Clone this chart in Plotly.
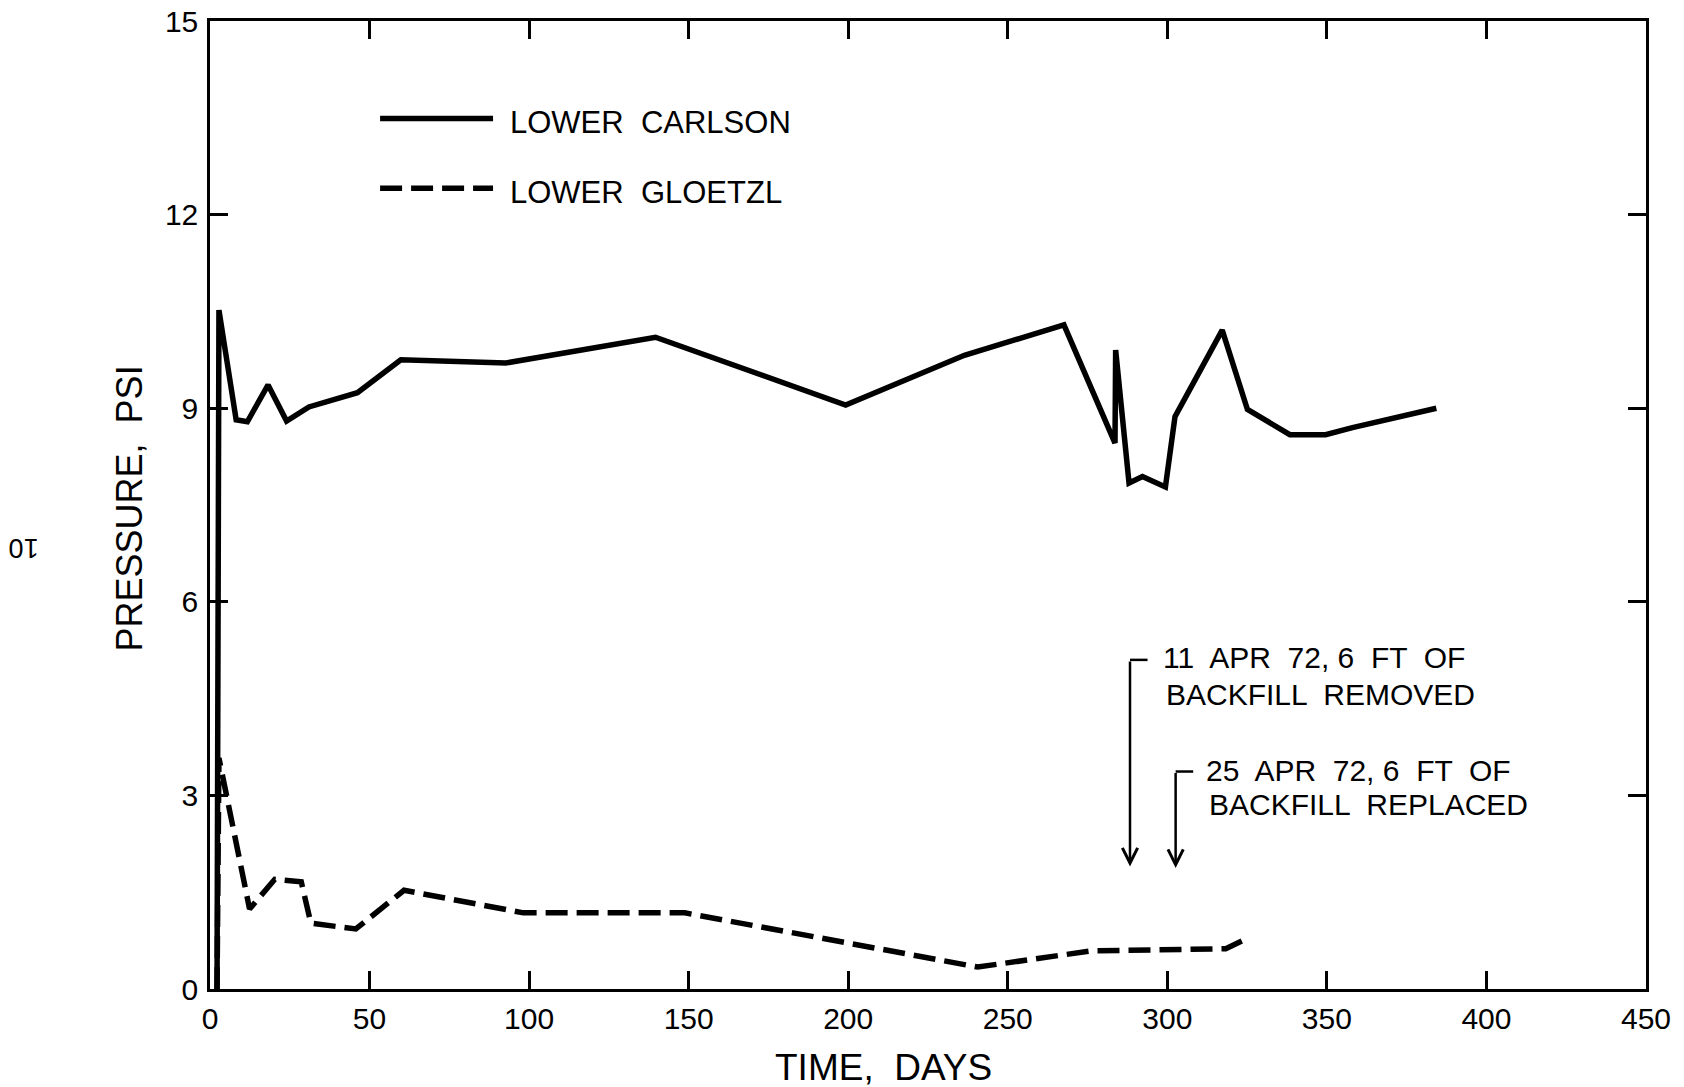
import plotly.graph_objects as go

# ---------------- data ----------------
carlson_days = [2.2, 2.8, 8.2, 11.7, 18.2, 24.0, 31.0, 46.2, 59.8, 92.7, 139.6, 199.2,
                236.4, 267.6, 283.6, 283.8, 288.0, 292.2, 299.4, 302.4, 317.2, 325.1,
                338.4, 349.6, 358.0, 384.3]
carlson_psi = [0.0, 10.52, 8.82, 8.79, 9.36, 8.80, 9.02, 9.24, 9.75, 9.70, 10.10, 9.05,
               9.82, 10.29, 8.46, 9.90, 7.84, 7.94, 7.78, 8.87, 10.21, 8.98,
               8.59, 8.59, 8.70, 9.00]

gloetzl_days = [2.2, 2.8, 12.4, 20.3, 28.6, 31.6, 45.7, 60.8, 98.2, 148.8, 240.6,
                276.0, 318.3, 325.6]
gloetzl_psi = [0.0, 3.58, 1.24, 1.70, 1.66, 1.02, 0.93, 1.53, 1.18, 1.18, 0.34,
               0.59, 0.625, 0.795]

x_ticks = [0, 50, 100, 150, 200, 250, 300, 350, 400, 450]
y_ticks = [0, 3, 6, 9, 12, 15]

series_names = ["LOWER  CARLSON", "LOWER  GLOETZL"]

event_days = [288.3, 302.6]
event_lines = [["11  APR  72, 6  FT  OF", "BACKFILL  REMOVED"],
               ["25  APR  72, 6  FT  OF", "BACKFILL  REPLACED"]]

FONT = "Liberation Sans, Arial, sans-serif"
DASH = "22px,9px"
LW = 5.5

fig = go.Figure()
fig.add_trace(go.Scatter(x=carlson_days, y=carlson_psi, mode="lines",
                         line=dict(color="black", width=LW), name=series_names[0],
                         showlegend=False))
fig.add_trace(go.Scatter(x=gloetzl_days, y=gloetzl_psi, mode="lines",
                         line=dict(color="black", width=LW, dash=DASH), name=series_names[1],
                         showlegend=False))

# manual legend
legend_y = [13.49, 12.41]
legend_dash = ["solid", DASH]
for yv, d, nm in zip(legend_y, legend_dash, series_names):
    fig.add_shape(type="line", x0=53.3, x1=88.7, y0=yv, y1=yv, xref="x", yref="y",
                  line=dict(color="black", width=LW, dash=d))
    fig.add_annotation(x=93.5, y=yv - 0.07, xref="x", yref="y", text=nm, showarrow=False,
                       xanchor="left", yanchor="middle",
                       font=dict(family=FONT, size=31, color="black"))

# event arrows and notes
arrow_top = [5.10, 3.37]
arrow_tip = [1.90, 1.875]
text_x = [298.0, 311.5]
text_y = [[5.14, 4.56], [3.38, 2.86]]
for d, top, tip, tx, ty, lines in zip(event_days, arrow_top, arrow_tip, text_x, text_y, event_lines):
    fig.add_annotation(x=d, y=tip, ax=d, ay=top, xref="x", yref="y", axref="x", ayref="y",
                       text="", showarrow=True, arrowhead=5, arrowsize=1.2, arrowwidth=2.5,
                       arrowcolor="black", standoff=0)
    fig.add_shape(type="line", x0=d, x1=d + 5.5, y0=top, y1=top, xref="x", yref="y",
                  line=dict(color="black", width=2.5))
    for i, (t, yv) in enumerate(zip(lines, ty)):
        fig.add_annotation(x=tx + (1.0 if i == 1 else 0.0), y=yv, xref="x", yref="y", text=t,
                           showarrow=False, xanchor="left", yanchor="middle",
                           font=dict(family=FONT, size=30, color="black"))

# axis titles
fig.add_annotation(x=0.4690, y=-0.081, xref="paper", yref="paper", text="TIME,  DAYS",
                   showarrow=False, xanchor="center", yanchor="middle",
                   font=dict(family=FONT, size=37, color="black"))
fig.add_annotation(x=-0.056, y=0.496, xref="paper", yref="paper", text="PRESSURE,  PSI",
                   showarrow=False, xanchor="center", yanchor="middle", textangle=-90,
                   font=dict(family=FONT, size=36, color="black"))
fig.add_annotation(x=-0.1300, y=0.455, xref="paper", yref="paper", text="10",
                   showarrow=False, xanchor="center", yanchor="middle", textangle=180,
                   font=dict(family=FONT, size=27, color="black"))

axis_common = dict(showline=True, linecolor="black", linewidth=2.5, mirror="allticks",
                   ticks="inside", ticklen=18, tickwidth=2.5, tickcolor="black",
                   showgrid=False, zeroline=False, automargin=False,
                   tickfont=dict(family=FONT, size=30, color="black"))

fig.update_xaxes(range=[0, 450], tickvals=x_ticks, ticktext=[str(v) for v in x_ticks],
                 ticklabelstandoff=1, **axis_common)
fig.update_yaxes(range=[0, 15], tickvals=y_ticks, ticktext=[str(v) for v in y_ticks],
                 ticklabelstandoff=3, **axis_common)

fig.update_layout(width=1684, height=1087,
                  margin=dict(l=210, r=38, t=21, b=98),
                  paper_bgcolor="white", plot_bgcolor="white", showlegend=False)

fig.write_html("out.html", config={"displayModeBar": False},
               post_script="document.body.style.margin='0';")
